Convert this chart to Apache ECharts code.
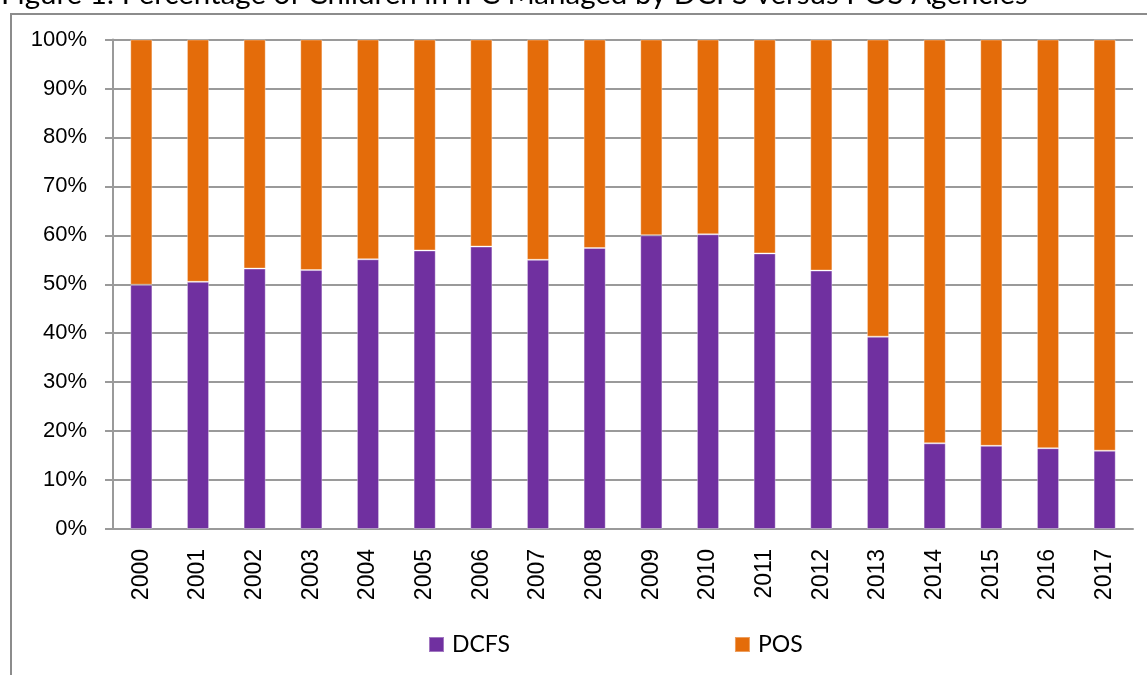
<!DOCTYPE html>
<html>
<head>
<meta charset="utf-8">
<title>DCFS vs POS</title>
<script src="https://cdn.jsdelivr.net/npm/echarts/dist/echarts.min.js"></script>
<style>
    html, body { margin: 0; padding: 0; background: #fff; }
    #chart { width: 1147px; height: 675px; }
</style>
</head>
<body>
<div id="chart"></div>
<script>
    // categories and values
    const years = ['2000', '2001', '2002', '2003', '2004', '2005', '2006', '2007', '2008',
        '2009', '2010', '2011', '2012', '2013', '2014', '2015', '2016', '2017'];
    const dcfsPct = [49.9, 50.5, 53.2, 52.9, 55.1, 56.9, 57.7, 55.0, 57.4,
        60.0, 60.2, 56.3, 52.8, 39.3, 17.5, 17.0, 16.5, 16.0];
    const posPct = [50.1, 49.5, 46.8, 47.1, 44.9, 43.1, 42.3, 45.0, 42.6,
        40.0, 39.8, 43.7, 47.2, 60.7, 82.5, 83.0, 83.5, 84.0];
    const titleText = 'Figure 1: Percentage of Children in IFC Managed by DCFS versus POS Agencies';

    let myChart = echarts.init(document.getElementById('chart'));
    let gridColor = '#9a9a9a';
    let options = {
        animation: false,
        graphic: [
            {
                // title sits above the page edge, only its bottom shows
                type: 'text',
                left: 1,
                top: -21,
                style: {
                    text: titleText,
                    font: '29.5px Lato',
                    fill: '#000'
                }
            },
            {
                type: 'rect',
                shape: { x: 11, y: 14, width: 1300, height: 800 },
                style: { fill: 'none', stroke: '#8c8c8c', lineWidth: 2 }
            }
        ],
        legend: {
            left: 428,
            top: 633,
            padding: 0,
            itemWidth: 15,
            itemHeight: 15,
            itemGap: 224,
            icon: 'rect',
            textStyle: { fontFamily: 'Lato', fontSize: 23, color: '#000', padding: [0, 0, 0, 3] },
            data: ['DCFS', 'POS']
        },
        grid: {
            left: 113,
            right: 14,
            top: 39.5,
            bottom: 146
        },
        xAxis: {
            type: 'category',
            data: years,
            axisLine: { lineStyle: { color: gridColor, width: 2 } },
            axisTick: { length: 7, lineStyle: { color: gridColor, width: 2 } },
            axisLabel: {
                rotate: 90,
                margin: 20,
                fontFamily: 'Liberation Sans',
                fontSize: 23,
                color: '#000'
            }
        },
        yAxis: {
            type: 'value',
            min: 0,
            max: 100,
            interval: 10,
            axisLine: { show: true, lineStyle: { color: gridColor, width: 2 } },
            axisTick: { show: true, length: 8, lineStyle: { color: gridColor, width: 2 } },
            splitLine: { lineStyle: { color: gridColor, width: 2 } },
            axisLabel: {
                formatter: '{value}%',
                margin: 26,
                fontFamily: 'Liberation Sans',
                fontSize: 22,
                color: '#000'
            }
        },
        series: [
            {
                name: 'DCFS',
                type: 'bar',
                stack: 'total',
                barWidth: '39%',
                data: dcfsPct,
                itemStyle: { color: '#7030a0', borderColor: 'rgba(255,255,255,0.35)', borderWidth: 1 }
            },
            {
                name: 'POS',
                type: 'bar',
                stack: 'total',
                barWidth: '39%',
                data: posPct,
                itemStyle: { color: '#e46c0a', borderColor: 'rgba(255,255,255,0.35)', borderWidth: 1 }
            }
        ]
    };
    myChart.setOption(options);
</script>
</body>
</html>
